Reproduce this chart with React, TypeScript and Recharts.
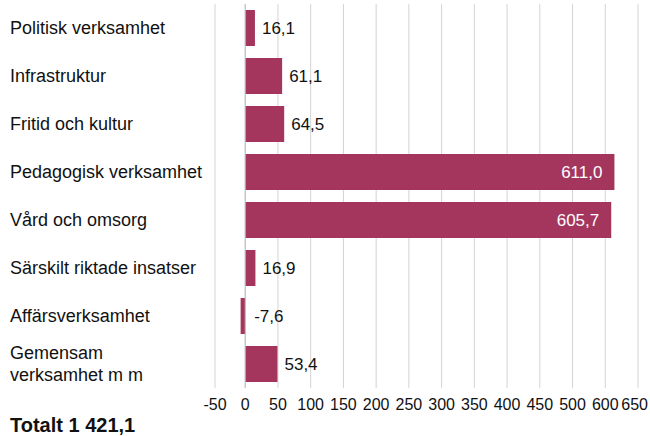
import React from "react";
import {
  BarChart,
  Bar,
  XAxis,
  YAxis,
  CartesianGrid,
  LabelList,
  ReferenceLine,
} from "recharts";

// Verksamheter, uppifrån och ned
const categories: string[] = [
  "Politisk verksamhet",
  "Infrastruktur",
  "Fritid och kultur",
  "Pedagogisk verksamhet",
  "Vård och omsorg",
  "Särskilt riktade insatser",
  "Affärsverksamhet",
  "Gemensam\nverksamhet m m",
];

// Nettokostnad, mnkr
const values: number[] = [16.1, 61.1, 64.5, 611.0, 605.7, 16.9, -7.6, 53.4];

// Axelns etiketter som de står i förlagan (550 saknas)
const xTickLabels: string[] = [
  "-50", "0", "50", "100", "150", "200", "250", "300",
  "350", "400", "450", "500", "600", "650",
];

const totalText = "Totalt 1 421,1";

const FONT = "'Liberation Sans', Arial, Helvetica, sans-serif";
const BAR_COLOR = "#a4365e";

const data = categories.map((name, i) => ({ name, value: values[i] }));

// etiketterna ligger jämnt utspridda, -50 och 0 först, resten fram till max
const xMin = Number(xTickLabels[0]);
const xMax = Number(xTickLabels[xTickLabels.length - 1]);
const step = xMax / (xTickLabels.length - 2);
const xTicks = xTickLabels.map((_, i) => (i === 0 ? xMin : (i - 1) * step));

const fmt = (v: number) => v.toFixed(1).replace(".", ",");

const CategoryTick = (props: any) => {
  const { y, payload } = props;
  const lines = String(payload.value).split("\n");
  if (lines.length === 1) {
    return (
      <text x={10} y={y + 6} fontSize={18} fill="#111" fontFamily={FONT}>
        {lines[0]}
      </text>
    );
  }
  return (
    <text x={10} y={y - 5} fontSize={18} fill="#111" fontFamily={FONT}>
      {lines.map((l, i) => (
        <tspan key={i} x={10} dy={i === 0 ? 0 : 22}>
          {l}
        </tspan>
      ))}
    </text>
  );
};

const NumberTick = (props: any) => {
  const { x, y, index } = props;
  const last = index === xTickLabels.length - 1;
  return (
    <text
      x={last ? x + 10 : x}
      y={y + 14}
      textAnchor={last ? "end" : "middle"}
      fontSize={16}
      fill="#111"
      fontFamily={FONT}
    >
      {xTickLabels[index]}
    </text>
  );
};

const ValueLabel = (props: any) => {
  const { x, y, width, height, value } = props;
  const right = Math.max(x, x + width);
  const cy = y + height / 2 + 6;
  if (value > 300) {
    return (
      <text x={right - 12} y={cy} textAnchor="end" fontSize={17} fill="#fff" fontFamily={FONT}>
        {fmt(value)}
      </text>
    );
  }
  return (
    <text x={right + (value < 0 ? 9 : 7)} y={cy} textAnchor="start" fontSize={17} fill="#111" fontFamily={FONT}>
      {fmt(value)}
    </text>
  );
};

export default function App() {
  return (
    <div style={{ position: "absolute", left: 0, top: 0, width: 650, height: 436, background: "#fff" }}>
      <BarChart
        width={650}
        height={436}
        data={data}
        layout="vertical"
        margin={{ top: 4, right: 12, left: 0, bottom: 22 }}
        barCategoryGap={6}
      >
        <CartesianGrid vertical={true} horizontal={false} stroke="#d3d3d3" />
        <XAxis
          type="number"
          domain={[xMin, xMax]}
          ticks={xTicks}
          interval={0}
          axisLine={false}
          tickLine={false}
          tick={<NumberTick />}
          height={26}
        />
        <YAxis
          type="category"
          dataKey="name"
          width={215}
          axisLine={false}
          tickLine={false}
          tick={<CategoryTick />}
          interval={0}
        />
        <ReferenceLine x={0} stroke="#bdbdbd" />
        <Bar dataKey="value" fill={BAR_COLOR} barSize={36} isAnimationActive={false}>
          <LabelList dataKey="value" content={<ValueLabel />} />
        </Bar>
      </BarChart>
      <div
        style={{
          position: "absolute",
          left: 10,
          top: 414,
          fontFamily: FONT,
          fontWeight: "bold",
          fontSize: 20,
          lineHeight: "22px",
          color: "#111",
        }}
      >
        {totalText}
      </div>
    </div>
  );
}
